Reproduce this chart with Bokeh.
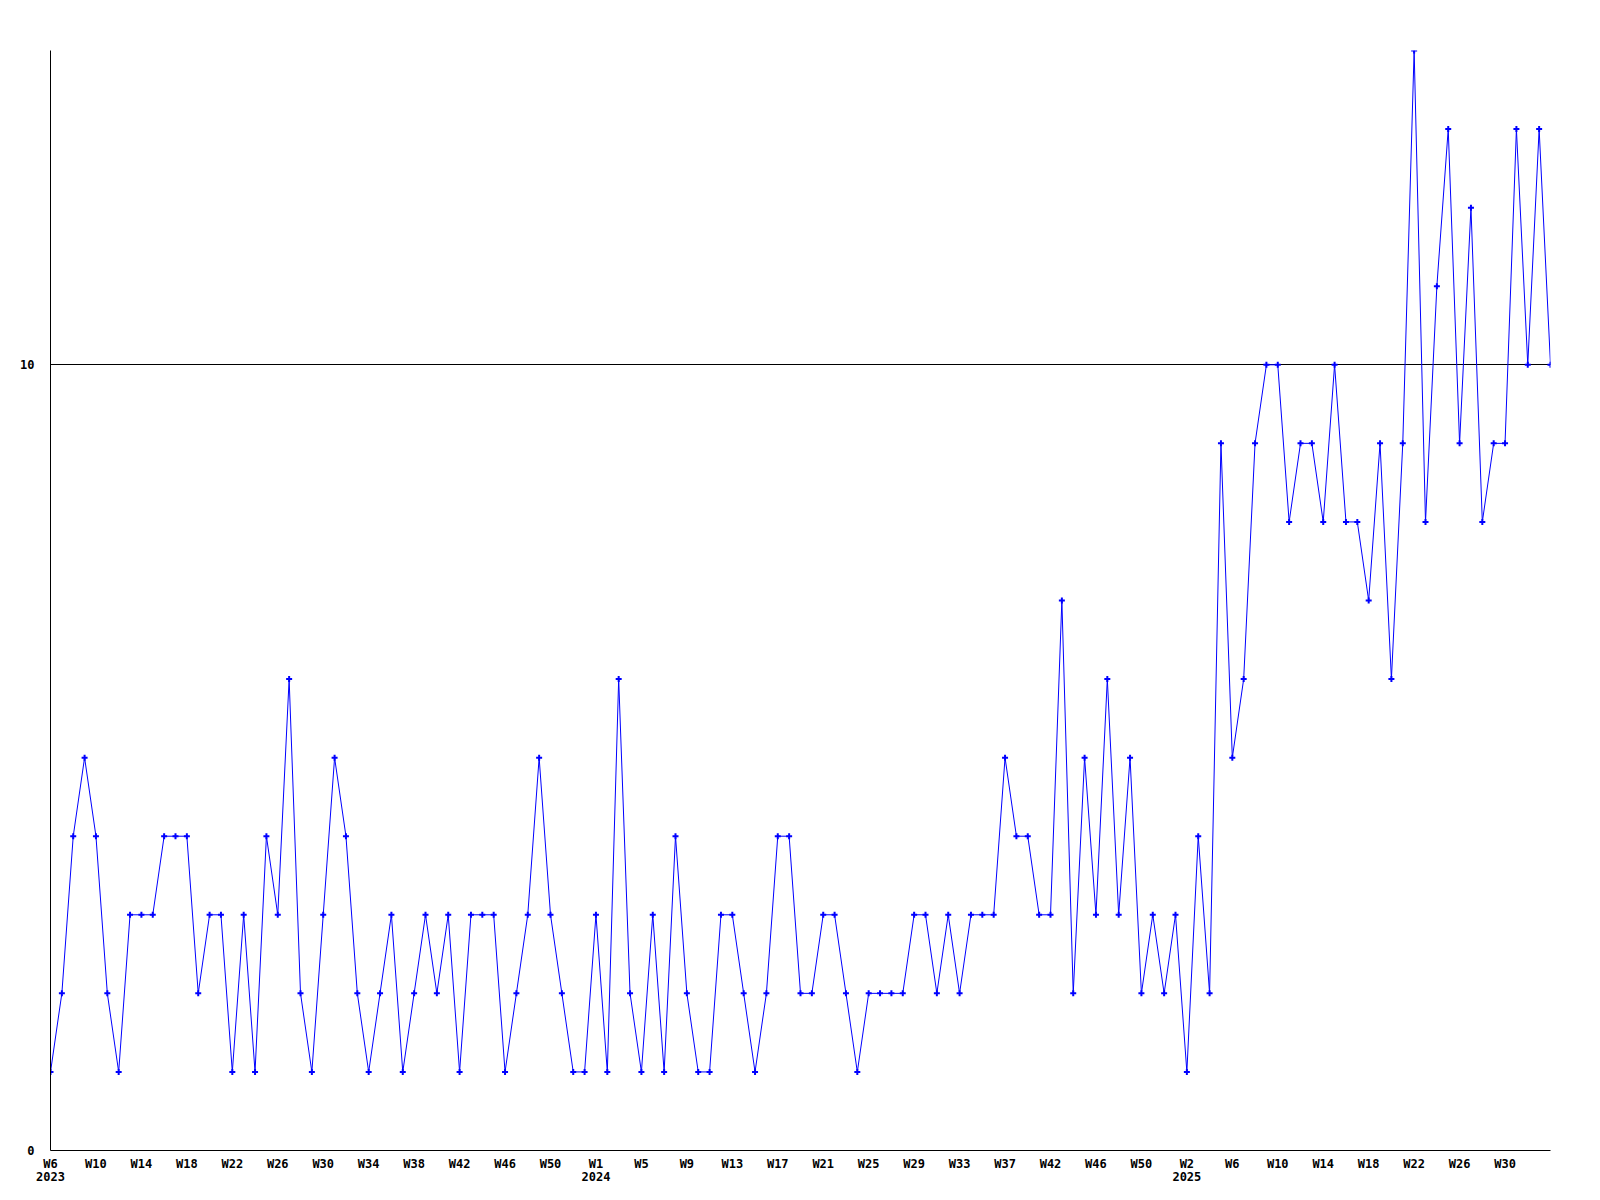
from bokeh.plotting import figure
from bokeh.models import Range1d, FixedTicker, LinearAxis
from bokeh.embed import file_html
from bokeh.resources import INLINE

# ---- data (weekly counts, 2023 W6 .. 2025) ----
values = [
    1, 2, 4, 5, 4, 2, 1, 3, 3, 3, 4, 4, 4, 2, 3, 3, 1, 3, 1, 4,
    3, 6, 2, 1, 3, 5, 4, 2, 1, 2, 3, 1, 2, 3, 2, 3, 1, 3, 3, 3,
    1, 2, 3, 5, 3, 2, 1, 1, 3, 1, 6, 2, 1, 3, 1, 4, 2, 1, 1, 3,
    3, 2, 1, 2, 4, 4, 2, 2, 3, 3, 2, 1, 2, 2, 2, 2, 3, 3, 2, 3,
    2, 3, 3, 3, 5, 4, 4, 3, 3, 7, 2, 5, 3, 6, 3, 5, 2, 3, 2, 3,
    1, 4, 2, 9, 5, 6, 9, 10, 10, 8, 9, 9, 8, 10, 8, 8, 7, 9, 6, 9,
    14, 8, 11, 13, 9, 12, 8, 9, 9, 13, 10, 13, 10,
]

tick_weeks = [
    "W6", "W10", "W14", "W18", "W22", "W26", "W30", "W34", "W38", "W42", "W46", "W50",
    "W1", "W5", "W9", "W13", "W17", "W21", "W25", "W29", "W33", "W37", "W42", "W46", "W50",
    "W2", "W6", "W10", "W14", "W18", "W22", "W26", "W30",
]
tick_years = [2023] * 12 + [2024] * 13 + [2025] * 8
TICK_EVERY = 4

y_ticks = [0, 10]
y_max = 14

FONT = "DejaVu Sans Mono"
FONT_SIZE = "12px"
BLUE = "#0000ff"

x = list(range(len(values)))
tick_pos = [i * TICK_EVERY for i in range(len(tick_weeks))]
year_pos, year_lab = [], []
for pos, yr in zip(tick_pos, tick_years):
    if not year_lab or year_lab[-1] != str(yr):
        year_pos.append(pos)
        year_lab.append(str(yr))

p = figure(
    width=1596, height=1196,
    output_backend="svg", toolbar_location=None,
    x_range=Range1d(0, len(values) - 1), y_range=Range1d(0, y_max),
    min_border_left=50, min_border_top=50, min_border_right=46, min_border_bottom=46,
)
p.outline_line_color = None
p.background_fill_color = "white"
p.border_fill_color = "white"


def style_axis(ax, standoff):
    ax.major_tick_line_color = None
    ax.minor_tick_line_color = None
    ax.major_tick_out = 0
    ax.major_tick_in = 0
    ax.minor_tick_out = 0
    ax.minor_tick_in = 0
    ax.major_label_standoff = standoff
    ax.major_label_text_font = FONT
    ax.major_label_text_font_size = FONT_SIZE
    ax.major_label_text_font_style = "bold"
    ax.major_label_text_color = "black"
    ax.axis_line_color = "black"
    ax.axis_line_width = 1


xa = p.xaxis[0]
style_axis(xa, 6)
xa.ticker = FixedTicker(ticks=tick_pos)
xa.major_label_overrides = {pos: lab for pos, lab in zip(tick_pos, tick_weeks)}

ya = p.yaxis[0]
style_axis(ya, 16)
ya.ticker = FixedTicker(ticks=y_ticks)
ya.major_label_overrides = {t: str(t) for t in y_ticks}

year_axis = LinearAxis(
    ticker=FixedTicker(ticks=year_pos),
    major_label_overrides={pos: lab for pos, lab in zip(year_pos, year_lab)},
)
style_axis(year_axis, -2)
year_axis.axis_line_color = None
p.add_layout(year_axis, "below")

p.xgrid.grid_line_color = None
p.ygrid.ticker = FixedTicker(ticks=[10])
p.ygrid.grid_line_color = "black"
p.ygrid.grid_line_width = 1

p.line(x, values, line_color=BLUE, line_width=1)
p.scatter(x, values, marker="cross", size=6, line_color=BLUE, line_width=2)

open("out.html", "w").write(file_html(p, INLINE))
